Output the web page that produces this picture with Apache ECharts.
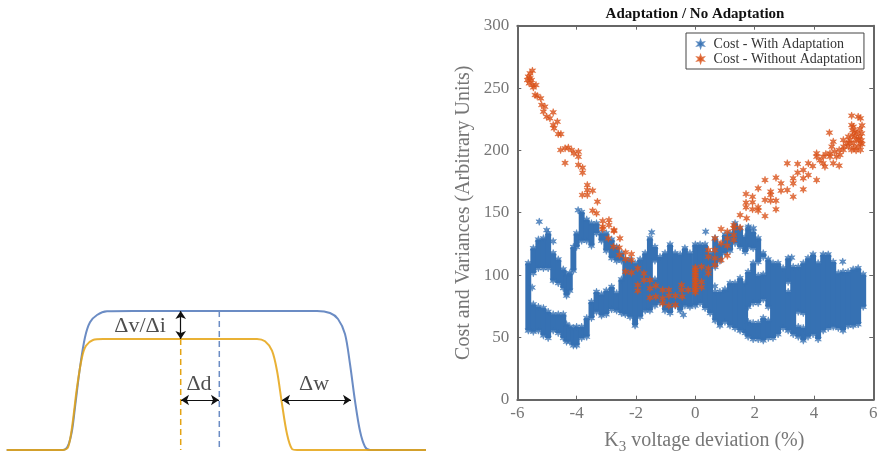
<!DOCTYPE html>
<html>
<head>
<meta charset="utf-8">
<style>
    html, body { margin: 0; padding: 0; background: #fff; }
    #main { width: 881px; height: 455px; }
</style>
</head>
<body>
<div id="main"></div>
<script src="https://cdn.jsdelivr.net/npm/echarts@6/dist/echarts.min.js"></script>
<script>
// left panel: the two pulses
var blueX = [6.7,63,68,72,75,80,85,90,97,107,133,317,330,338,345,350,355,360,365,370,426];
var blueY = [0,0,4.3,19.3,42.7,82.7,112.7,127.7,135,138.7,139,139,137,131,116,86,49,19,3.3,0,0];
var orangeX = [6.7,63,68,72,77,82,86,93,103,257,265,272,277,282,287,292,297,426];
var orangeY = [0,0,2.7,22.7,62.7,92.7,104.3,110,111,111,108.7,99.3,79.3,46,16,1,0,0];
var dashOrange = [[180.7,111],[180.7,0]];
var dashBlue = [[219.3,139],[219.3,0]];
var arrows = [
    [[180.7,139],[180.7,111]],
    [[181,50],[219,50]],
    [[282,50],[351,50]]
];
var notes = [['\u0394v/\u0394i',140,124],['\u0394d',199,66],['\u0394w',314,66]];

// right panel: the With Adaptation cloud is too dense to pick single points,
// so it is read as column ranges [x, low, high] plus the stars that stand alone
var blueBands = [
    [-5.63,53,112],
    [-5.46,52,79],[-5.46,99,124],
    [-5.29,53,77],[-5.29,103,131],
    [-5.12,49,76],[-5.12,103,132],
    [-4.96,47,73],[-4.96,103,136],
    [-4.79,53,71],[-4.79,93,120],
    [-4.62,51,71],[-4.62,91,115],
    [-4.45,47,71],[-4.45,87,107],
    [-4.34,44,63],[-4.34,81,103],
    [-4.23,44,61],[-4.23,85,104],
    [-4.11,41,60],[-4.11,101,125],
    [-4.0,41,61],[-4.0,120,136],
    [-3.83,47,61],[-3.83,125,153],
    [-3.66,48,68],[-3.66,125,147],
    [-3.5,63,81],[-3.5,121,144],
    [-3.33,68,89],[-3.33,131,144],
    [-3.16,65,87],[-3.16,125,136],
    [-3.0,66,90],[-3.0,117,136],
    [-2.82,70,93],[-2.82,111,131],
    [-2.65,69,88],[-2.65,109,125],
    [-2.49,67,99],[-2.49,109,120],
    [-2.36,66,115],[-2.2,64,115],[-2.03,57,112],[-1.86,64,115],[-1.69,69,120],[-1.53,69,132],
    [-1.36,73,99],[-1.36,109,125],
    [-1.19,75,117],[-1.02,69,120],[-0.85,67,127],[-0.68,73,120],[-0.51,69,119],[-0.35,73,124],
    [-0.18,72,120],[0,73,127],[0.16,75,127],[0.33,71,127],[0.5,67,120],
    [0.67,61,89],[0.67,104,132],
    [0.83,57,89],[0.83,109,127],
    [1.0,60,91],[1.0,115,135],
    [1.17,57,96],[1.17,117,136],
    [1.34,55,96],[1.34,123,144],
    [1.51,53,100],[1.51,120,140],
    [1.68,51,96],[1.68,116,133],
    [1.78,48,65],[1.78,72,105],[1.78,120,140],
    [1.95,46,64],[1.95,75,112],[1.95,119,137],
    [2.12,46,64],[2.12,75,102],[2.12,108,132],
    [2.29,45,68],[2.29,78,103],[2.29,112,120],
    [2.46,47,66],[2.46,72,115],
    [2.62,47,112],[2.79,50,112],[2.96,55,108],
    [3.13,53,89],[3.13,92,116],
    [3.3,50,109],
    [3.47,48,61],[3.47,68,109],
    [3.64,45,60],[3.64,67,112],
    [3.8,48,116],[3.97,50,119],[4.14,46,112],[4.31,53,119],[4.48,55,119],[4.65,56,113],
    [4.82,55,104],[4.98,53,105],[5.15,57,105],[5.32,57,107],[5.49,58,108],[5.66,72,103]
];
var blueStars = [
    [-5.26,142.8],[-5.01,136],[-4.79,127],[-3.95,152],[-1.47,134.2],[0.35,134.8],
    [1.79,138.8],[1.96,137.5],[3.25,114],[4.97,110.7],[-0.4,68],[0.66,91],[-5.5,90]
];
var orangeStars = [
    [-5.49,263.9],[-5.57,261.8],[-5.63,259.1],[-5.66,256.4],[-5.6,253.8],[-5.48,252.4],[-5.37,252.4],[-5.46,250.5],
    [-5.52,256.4],[-5.57,257.8],[-5.33,243.6],[-5.21,241.7],[-5.4,244.4],[-5.18,236.4],[-5.07,235],[-5.12,231],
    [-5.01,227],[-4.9,225.7],[-4.79,230.5],[-4.65,223],[-4.79,220.3],[-4.76,217.7],[-4.62,213.1],[-4.53,213.1],
    [-4.54,200.3],[-4.39,201.6],[-4.28,202.2],[-4.17,200.3],[-4.09,197.6],[-3.94,198.9],[-3.94,194.9],[-4.39,189.9],
    [-3.94,188.3],[-3.8,186.1],[-3.8,182.1],[-3.64,172.2],[-3.64,168.2],[-3.81,164.2],[-3.64,164.2],[-3.46,167.7],
    [-3.3,158.8],[-3.46,151.6],[-3.33,149.5],[-3.12,143.3],[-2.91,144.1],[-2.91,140.1],[-3.12,138.8],[-2.74,136.1],
    [-3.12,136.9],[-2.93,129.4],[-2.74,135.3],[-2.54,129.4],[-2.76,122.7],[-2.56,121.9],[-2.35,118.2],[-2.15,116.8],
    [-2.56,116],[-2.35,112.8],[-2.15,112],[-2.35,102.7],[-2.15,101.9],[-1.94,105.3],[-1.73,101.3],[-1.73,96],
    [-1.53,96],[-1.94,92],[-1.94,87.4],[-1.53,89.3],[-1.33,91.4],[-1.53,81.8],[-1.33,82.6],[-1.1,88],
    [-1.1,81.3],[-1.1,77.3],[-0.89,88],[-0.89,83.4],[-0.89,75.4],[-0.67,83.4],[-0.67,75.9],[-0.46,92],
    [-0.46,88],[-0.44,82.6],[-0.24,88],
    [0,86],[0,88],[0,90],[0,92],[0,94],[0,96],[0,98],[0,100],[0,102],[0,104],[0,106],
    [0.21,106.7],[0.21,94.6],[0.21,90.1],[0.44,120],[0.44,114.7],[0.44,105.3],[0.44,101.3],[0.66,129.4],
    [0.66,120],[0.66,113.4],[0.66,108],[0.87,136.9],[0.87,125.4],[0.87,112],[1.08,134.8],[1.08,129.4],
    [1.08,123.5],[1.08,115.5],[1.3,137.4],[1.3,132.1],[1.3,128.1],[1.51,138],[1.3,140.1],[1.51,148.1],
    [1.73,145.5],[1.71,165],[1.71,158],[1.71,154.3],[1.93,162.8],[1.93,158.3],[1.93,152.7],[2.12,169.5],
    [2.12,154.3],[2.12,151.6],[2.35,176.2],[2.35,160.2],[2.35,147.3],[2.54,166.9],[2.54,164.2],[2.54,159.6],
    [2.72,178.1],[2.72,159.6],[2.72,152.7],[2.89,173.5],[2.89,167.7],[3.1,189.6],[3.1,168.2],[3.3,162.8],
    [3.3,177.6],[3.3,173.5],[3.45,189.1],[3.45,182.1],[3.64,184.2],[3.64,177.6],[3.64,168.7],[3.81,180.2],
    [3.81,189.6],[3.96,187.4],[4.09,197.6],[4.09,194.9],[4.09,176.2],[4.31,194.9],[4.31,189.6],[4.37,186.9],
    [4.52,214.2],[4.54,194.9],[4.54,197.6],[4.65,207],[4.85,187.7],[4.85,200.3],[4.65,189.6],[4.99,208.3],
    [4.99,200.3],[5.16,211],[5.27,227.8],[5.27,220.3],[5.33,219],[5.38,215],[5.49,227],[5.57,225.7],
    [5.55,211],[5.57,205.6],[5.57,200.3],[5.27,200.3],[5.33,205.6],[5.1,205.6],[5.44,208.3],[5.61,213.6],
    [5.49,203],[4.88,196.3],[4.76,194.9],[5.21,208.3],[5.38,211],[5.16,203],
    [5.3,212],[5.45,214],[5.5,209],[5.6,208],[5.0,203],[5.2,206],[5.35,202],[5.55,217],
    [5.62,205],[5.42,200],[5.62,220],[5.3,216],[4.7,199],[4.6,203],[4.4,197],[4.2,192]
];
var xTicks = [-6,-4,-2,0,2,4,6];
var yTicks = [0,50,100,150,200,250,300];

var serif = '"Liberation Serif", serif';
var grey = '#777';
var axisGrey = '#666';
var starBlue = '#3671b3';
var starOrange = '#d9531a';
var star = 'path://M0,-10L2.1,-3.64L8.66,-5L4.2,0L8.66,5L2.1,3.64L0,10L-2.1,3.64L-8.66,5L-4.2,0L-8.66,-5L-2.1,-3.64Z';
var bandInset = 2.5;

function pairs(xs, ys) {
    return xs.map(function (x, i) { return [x, ys[i]]; });
}

// stars sitting on the ends of every range give the cloud its rough edge
var blueEdge = blueStars.slice();
blueBands.forEach(function (b) {
    blueEdge.push([b[0], b[1] + bandInset]);
    blueEdge.push([b[0], b[2] - bandInset]);
});

var chart = echarts.init(document.getElementById('main'), null, { renderer: 'canvas' });
chart.setOption({
    animation: false,
    backgroundColor: '#fff',
    title: {
        text: 'Adaptation / No Adaptation',
        left: 690,
        top: 2,
        textAlign: 'center',
        textStyle: { fontFamily: serif, fontSize: 15, fontWeight: 'bold', color: '#111' }
    },
    legend: {
        data: ['Cost - With Adaptation', 'Cost - Without Adaptation'],
        orient: 'vertical',
        left: 686,
        top: 33,
        padding: [4, 2, 3, 11],
        itemWidth: 12,
        itemHeight: 6,
        itemGap: 1,
        borderColor: '#444',
        borderWidth: 1,
        backgroundColor: '#fff',
        textStyle: { fontFamily: serif, fontSize: 14, color: '#333', padding: [0, 0, 0, 2] }
    },
    grid: [
        { left: 0, top: 290, width: 440, height: 160, outerBoundsMode: 'none' },
        { left: 517.3, top: 25.7, width: 356, height: 374, outerBoundsMode: 'none' }
    ],
    xAxis: [
        { gridIndex: 0, type: 'value', min: 0, max: 440, show: false },
        {
            gridIndex: 1, type: 'value', min: xTicks[0], max: xTicks[6], interval: 2,
            name: 'K{sub|3} voltage deviation (%)',
            nameLocation: 'middle',
            nameGap: 27,
            nameTextStyle: {
                fontFamily: serif, fontSize: 20, color: grey, padding: [0, 0, 0, 18],
                rich: { sub: { fontFamily: serif, fontSize: 15, color: grey, verticalAlign: 'bottom', padding: [13, 0, 0, 0] } }
            },
            axisLine: { onZero: false, lineStyle: { color: axisGrey, width: 2 } },
            axisTick: { inside: true, length: 4, lineStyle: { color: axisGrey } },
            axisLabel: { fontFamily: serif, fontSize: 17, color: grey, margin: 5 },
            splitLine: { show: false }
        },
        {
            gridIndex: 1, type: 'value', position: 'top', min: xTicks[0], max: xTicks[6], interval: 2,
            axisLine: { onZero: false, lineStyle: { color: axisGrey, width: 2 } },
            axisTick: { inside: true, length: 4, lineStyle: { color: axisGrey } },
            axisLabel: { show: false },
            splitLine: { show: false }
        }
    ],
    yAxis: [
        { gridIndex: 0, type: 'value', min: 0, max: 160, show: false },
        {
            gridIndex: 1, type: 'value', min: yTicks[0], max: yTicks[6], interval: 50,
            name: 'Cost and Variances (Arbitrary Units)',
            nameLocation: 'middle',
            nameGap: 44,
            nameTextStyle: { fontFamily: serif, fontSize: 20, color: grey },
            axisLine: { onZero: false, lineStyle: { color: axisGrey, width: 2 } },
            axisTick: { inside: true, length: 4, lineStyle: { color: axisGrey } },
            axisLabel: { fontFamily: serif, fontSize: 17, color: grey, margin: 8 },
            splitLine: { show: false }
        },
        {
            gridIndex: 1, type: 'value', position: 'right', min: yTicks[0], max: yTicks[6], interval: 50,
            axisLine: { onZero: false, lineStyle: { color: axisGrey, width: 2 } },
            axisTick: { inside: true, length: 4, lineStyle: { color: axisGrey } },
            axisLabel: { show: false },
            splitLine: { show: false }
        }
    ],
    series: [
        {
            name: 'blue pulse', type: 'line', xAxisIndex: 0, yAxisIndex: 0,
            data: pairs(blueX, blueY), smooth: 0.3, showSymbol: false,
            lineStyle: { color: '#6b8cc4', width: 2 }
        },
        {
            name: 'orange pulse', type: 'line', xAxisIndex: 0, yAxisIndex: 0,
            data: pairs(orangeX, orangeY), smooth: 0.3, showSymbol: false,
            lineStyle: { color: '#e5a312', width: 2, opacity: 0.85 }
        },
        {
            name: 'orange dash', type: 'line', xAxisIndex: 0, yAxisIndex: 0,
            data: dashOrange, showSymbol: false,
            lineStyle: { color: '#e5a312', width: 1.5, type: [6, 4] }
        },
        {
            name: 'blue dash', type: 'line', xAxisIndex: 0, yAxisIndex: 0,
            data: dashBlue, showSymbol: false,
            lineStyle: { color: '#6b8cc4', width: 1.5, type: [6, 4] },
            markLine: {
                silent: true,
                symbol: ['arrow', 'arrow'],
                symbolSize: 8,
                label: { show: false },
                lineStyle: { color: '#111', width: 1.2, type: 'solid' },
                data: arrows.map(function (a) {
                    return [{ coord: a[0] }, { coord: a[1] }];
                })
            }
        },
        {
            name: 'notes', type: 'scatter', xAxisIndex: 0, yAxisIndex: 0,
            symbolSize: 1,
            itemStyle: { color: 'transparent' },
            label: {
                show: true, position: 'inside', color: '#222',
                fontFamily: serif, fontSize: 22,
                formatter: function (p) { return p.data[0]; }
            },
            encode: { x: 1, y: 2 },
            data: notes
        },
        {
            name: 'cloud', type: 'custom', xAxisIndex: 1, yAxisIndex: 1,
            encode: { x: 0, y: [1, 2] },
            data: blueBands,
            renderItem: function (params, api) {
                var lo = api.coord([api.value(0), api.value(1) + bandInset]);
                var hi = api.coord([api.value(0), api.value(2) - bandInset]);
                var w = api.size([0.2, 0])[0];
                return {
                    type: 'rect',
                    shape: { x: lo[0] - w / 2, y: hi[1], width: w, height: lo[1] - hi[1] },
                    style: { fill: starBlue }
                };
            }
        },
        {
            name: 'Cost - With Adaptation', type: 'scatter', xAxisIndex: 1, yAxisIndex: 1,
            symbol: star, symbolSize: 7.5, symbolKeepAspect: true,
            itemStyle: { color: starBlue, borderColor: starBlue, borderWidth: 0.6 },
            data: blueEdge
        },
        {
            name: 'Cost - Without Adaptation', type: 'scatter', xAxisIndex: 1, yAxisIndex: 1,
            symbol: star, symbolSize: 7.5, symbolKeepAspect: true,
            itemStyle: { color: starOrange, borderColor: starOrange, borderWidth: 0.6 },
            data: orangeStars
        }
    ]
});
</script>
</body>
</html>
